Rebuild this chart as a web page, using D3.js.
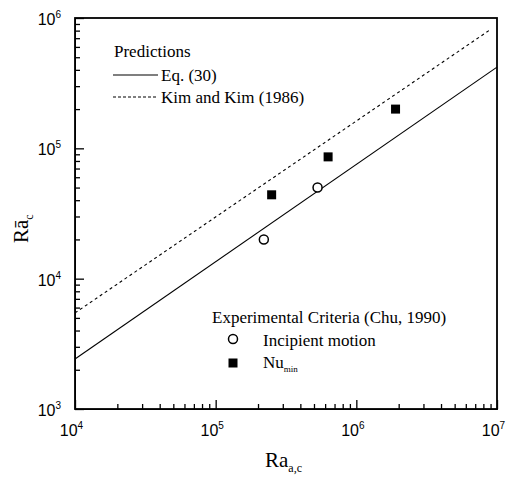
<!DOCTYPE html>
<html>
<head>
<meta charset="utf-8">
<script src="https://cdn.jsdelivr.net/npm/d3@7"></script>
<style>
  body { margin: 0; background: #fff; }
  .serif { font-family: "Liberation Serif", "Times New Roman", serif; fill: #000; }
</style>
</head>
<body>
<div id="chartContainer"></div>
<script>
// prediction lines (end points)
var eqRa = [1e4, 1e7]
var eqRac = [2420, 420000]
var kimRa = [1e4, 8.9e6]
var kimRac = [5460, 810000]

// experimental points (Chu, 1990)
var incipientRa = [2.2e5, 5.3e5]
var incipientRac = [2.0e4, 5.0e4]
var numinRa = [2.5e5, 6.3e5, 1.9e6]
var numinRac = [4.4e4, 8.6e4, 2.0e5]

// ticks
var xMajor = [1e4, 1e5, 1e6, 1e7]
var yMajor = [1e3, 1e4, 1e5, 1e6]
var xLabelExp = ["4", "5", "6", "7"]
var yLabelExp = ["3", "4", "5", "6"]

function minorTicks(majors){
  var out = []
  for (var i = 0; i < majors.length - 1; i++) {
    for (var k = 2; k <= 9; k++) out.push(majors[i] * k)
  }
  return out
}

var W = 507, H = 479
var plotL = 75, plotR = 497, plotT = 18, plotB = 409

var svg = d3.select("#chartContainer")
  .append("svg")
  .attr("width", W)
  .attr("height", H)

svg.append("rect").attr("width", W).attr("height", H).attr("fill", "#fff")

var x = d3.scaleLog().domain([1e4, 1e7]).range([plotL, plotR])
var y = d3.scaleLog().domain([1e3, 1e6]).range([plotB, plotT])

// minor ticks (inward)
svg.append("g")
  .attr("transform", "translate(0," + plotB + ")")
  .call(d3.axisBottom(x).tickValues(minorTicks(xMajor)).tickSize(-5).tickSizeOuter(0).tickFormat(""))
svg.append("g")
  .attr("transform", "translate(" + plotL + ",0)")
  .call(d3.axisLeft(y).tickValues(minorTicks(yMajor)).tickSize(-5).tickSizeOuter(0).tickFormat(""))

// major ticks
var xAxis = svg.append("g")
  .attr("transform", "translate(0," + plotB + ")")
  .call(d3.axisBottom(x).tickValues(xMajor).tickSize(-9).tickSizeOuter(0).tickPadding(15).tickFormat(""))
var yAxis = svg.append("g")
  .attr("transform", "translate(" + plotL + ",0)")
  .call(d3.axisLeft(y).tickValues(yMajor).tickSize(-9).tickSizeOuter(0).tickPadding(14).tickFormat(""))

svg.selectAll(".tick line").attr("stroke", "#000").attr("stroke-width", 1.3)
svg.selectAll(".domain").attr("stroke", "#000")

// tick labels as 10 with superscript
svg.selectAll(".tick text")
  .style("font-family", '"Liberation Sans", Arial, sans-serif')
  .style("font-size", "16px")
  .attr("fill", "#000")

xAxis.selectAll(".tick text")
  .attr("dy", "0.72em")
  .attr("dx", "-4")
  .each(function(d, i){
    var t = d3.select(this)
    t.append("tspan").text("10")
    t.append("tspan").attr("dy", "-7").style("font-size", "10px").text(xLabelExp[i])
  })
yAxis.selectAll(".tick text")
  .attr("dy", "0.4em")
  .each(function(d, i){
    var t = d3.select(this)
    t.append("tspan").text("10")
    t.append("tspan").attr("dy", "-7").style("font-size", "10px").text(yLabelExp[i])
  })

// frame
svg.append("rect")
  .attr("x", plotL).attr("y", plotT)
  .attr("width", plotR - plotL).attr("height", plotB - plotT)
  .attr("fill", "none")
  .attr("stroke", "#000")
  .attr("stroke-width", 1.8)

// prediction lines
var line = d3.line().x(d => x(d[0])).y(d => y(d[1]))
svg.append("path")
  .datum(eqRa.map((v, i) => [v, eqRac[i]]))
  .attr("d", line)
  .attr("fill", "none").attr("stroke", "#000").attr("stroke-width", 1.1)
svg.append("path")
  .datum(kimRa.map((v, i) => [v, kimRac[i]]))
  .attr("d", line)
  .attr("fill", "none").attr("stroke", "#000").attr("stroke-width", 1.1)
  .attr("stroke-dasharray", "3,3")

// experimental points
svg.selectAll("circle.inc")
  .data(incipientRa.map((v, i) => [v, incipientRac[i]]))
  .enter().append("circle")
  .attr("class", "inc")
  .attr("cx", d => x(d[0])).attr("cy", d => y(d[1]))
  .attr("r", 4.5)
  .attr("fill", "#fff").attr("stroke", "#000").attr("stroke-width", 1.5)
svg.selectAll("rect.nu")
  .data(numinRa.map((v, i) => [v, numinRac[i]]))
  .enter().append("rect")
  .attr("class", "nu")
  .attr("x", d => x(d[0]) - 4.5).attr("y", d => y(d[1]) - 4.5)
  .attr("width", 9).attr("height", 9)
  .attr("fill", "#000")

// legend: predictions
var leg = svg.append("g").attr("class", "serif").attr("font-size", "17px")
leg.append("text").attr("class", "serif").attr("x", 114).attr("y", 57).text("Predictions")
leg.append("line").attr("x1", 113).attr("x2", 158).attr("y1", 75).attr("y2", 75)
  .attr("stroke", "#000").attr("stroke-width", 1.1)
leg.append("text").attr("class", "serif").attr("x", 161).attr("y", 81).text("Eq. (30)")
leg.append("line").attr("x1", 113).attr("x2", 158).attr("y1", 97).attr("y2", 97)
  .attr("stroke", "#000").attr("stroke-width", 1.1).attr("stroke-dasharray", "3,2")
leg.append("text").attr("class", "serif").attr("x", 161).attr("y", 103).text("Kim and Kim (1986)")

// legend: experiments
leg.append("text").attr("class", "serif").attr("x", 212).attr("y", 323).text("Experimental Criteria (Chu, 1990)")
leg.append("circle").attr("cx", 233).attr("cy", 339).attr("r", 4.5)
  .attr("fill", "#fff").attr("stroke", "#000").attr("stroke-width", 1.5)
leg.append("text").attr("class", "serif").attr("x", 263).attr("y", 346).text("Incipient motion")
leg.append("rect").attr("x", 228.5).attr("y", 358.5).attr("width", 9).attr("height", 9).attr("fill", "#000")
var nu = leg.append("text").attr("class", "serif").attr("x", 263).attr("y", 368)
nu.append("tspan").text("Nu")
nu.append("tspan").attr("dy", 4).attr("font-size", "9px").text("min")

// axis titles
var xt = svg.append("text").attr("class", "serif").attr("font-size", "21px")
  .attr("x", 265).attr("y", 467)
xt.append("tspan").text("Ra")
xt.append("tspan").attr("dy", 5).attr("font-size", "12px").text("a,c")

var yt = svg.append("text").attr("class", "serif").attr("font-size", "21px")
  .attr("transform", "translate(28,243) rotate(-90)")
yt.append("tspan").text("R\u0101")
yt.append("tspan").attr("dy", 5).attr("font-size", "12px").text("c")
</script>
</body>
</html>
